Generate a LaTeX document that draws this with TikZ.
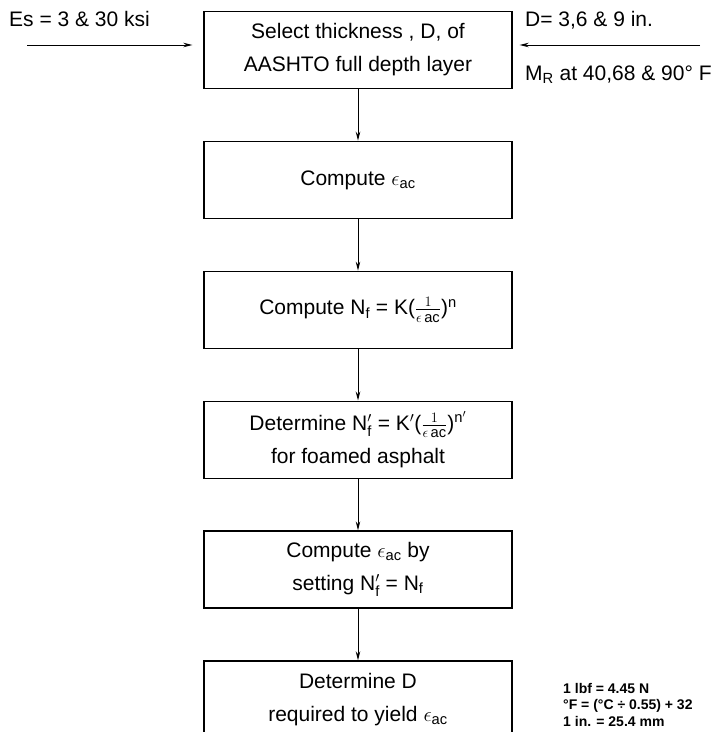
\documentclass[tikz,border=0pt]{standalone}
\usepackage{amsmath}
\usepackage{fontspec}
\setmainfont{Liberation Sans}
\usetikzlibrary{positioning,arrows.meta}
\tikzset{>={Stealth[length=9pt,width=4.5pt]},
  stepbox/.style={draw, line width=1.4pt, minimum width=308pt, minimum height=77pt, inner sep=0pt, align=center, font=\fontsize{21}{33}\selectfont},
  sidetext/.style={anchor=west, inner sep=0pt, font=\fontsize{21}{24}\selectfont},
  unitnote/.style={anchor=north west, inner sep=0pt, align=left, font=\bfseries\fontsize{14}{16.5}\selectfont}}
\newcommand{\eac}{$\epsilon_{\text{ac}}$}
\newcommand{\frc}{$\frac{1}{\epsilon\,\text{ac}}$}

\begin{document}
\begin{tikzpicture}[x=1pt,y=-1pt]
\useasboundingbox (0,0) rectangle (727,732);
\node[stepbox] (select) at (358,50) {Select thickness , D, of\\AASHTO full depth layer};
\node[stepbox, below=51.5pt of select] (strain) {Compute \eac};
\node[stepbox, below=51.5pt of strain] (fatigue) {Compute N$_{\text{f}}$ = K(\frc)$^{\text{n}}$};
\node[stepbox, below=51.5pt of fatigue] (foamed) {Determine N$'_{\text{f}}$ = K$'$(\frc)$^{\text{n}'}$\\for foamed asphalt};
\node[stepbox, below=51.5pt of foamed] (setting) {Compute \eac{} by\\setting N$'_{\text{f}}$ = N$_{\text{f}}$};
\node[stepbox, below=51.5pt of setting] (depth) {Determine D\\required to yield \eac};
\foreach \a/\b in {select/strain, strain/fatigue, fatigue/foamed, foamed/setting, setting/depth}
  \draw[line width=1pt, ->] (\a) -- (\b);
% inputs on either side of the first box
\node[sidetext] (es) at (9,19) {Es = 3 \& 30 ksi};
\node[sidetext] (dd) at (525,20) {D= 3,6 \& 9 in.};
\node[sidetext] (mr) at (525,75) {M$_{\text{R}}$ at 40,68 \& 90° F};
\coordinate (esin) at (27,45);
\coordinate (ddin) at (700,45);
\draw[line width=1pt, ->, shorten >=11pt] (esin) -- (esin -| select.west);
\draw[line width=1pt, ->, shorten >=7pt] (ddin) -- (ddin -| select.east);
\node[unitnote] (units) at (563,683) {1 lbf = 4.45 N\\°F = (°C ÷ 0.55) + 32\\1 in. = 25.4 mm};
\end{tikzpicture}
\end{document}
